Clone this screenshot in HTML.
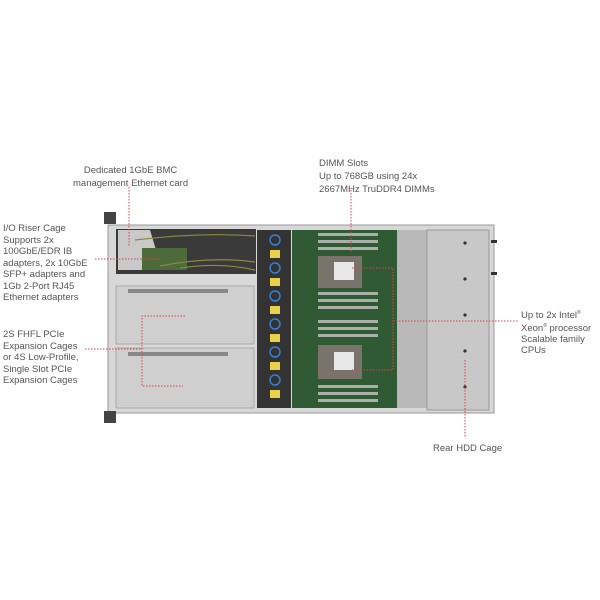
<!DOCTYPE html>
<html><head><style>
body{margin:0;width:600px;height:600px;background:#fff;position:relative;overflow:hidden;font-family:"Liberation Sans",sans-serif}
.t{position:absolute;font-size:9.5px;line-height:13px;color:#555;white-space:nowrap}
</style></head><body>
<svg width="600" height="600" style="position:absolute;left:0;top:0">
<rect x="108" y="225" width="386" height="188" fill="#d8d8d8" stroke="#999"/>
<rect x="104" y="212" width="12" height="12" fill="#444"/>
<rect x="104" y="411" width="12" height="12" fill="#444"/>
<rect x="116" y="229" width="140" height="45" fill="#3a3a3a"/>
<polygon points="118,230 150,230 162,270 118,270" fill="#c9c9c9"/>
<rect x="142" y="248" width="45" height="22" fill="#4c6a3a"/>
<g fill="none" stroke="#8a8a3a" stroke-width="1.2">
<path d="M135,240 Q200,232 255,236"/><path d="M160,266 Q210,256 255,262"/><path d="M180,268 Q220,262 255,270"/>
<path d="M378,232 Q400,236 398,300 Q396,380 380,408"/><path d="M384,232 Q406,240 404,300 Q402,385 388,408"/>
<path d="M296,240 Q306,260 296,280 Q306,300 296,320 Q306,340 296,360 Q306,380 296,400"/>
</g>
<rect x="116" y="286" width="138" height="58" fill="#cfcfcf" stroke="#aaa"/>
<rect x="116" y="348" width="138" height="60" fill="#cfcfcf" stroke="#aaa"/>
<rect x="128" y="289" width="100" height="4" fill="#888"/>
<rect x="128" y="352" width="100" height="4" fill="#888"/>
<rect x="257" y="230" width="34" height="178" fill="#333"/>
<g fill="#e8d24a">
<rect x="270" y="250" width="10" height="8"/><rect x="270" y="278" width="10" height="8"/><rect x="270" y="306" width="10" height="8"/><rect x="270" y="334" width="10" height="8"/><rect x="270" y="362" width="10" height="8"/><rect x="270" y="390" width="10" height="8"/></g>
<g fill="none" stroke="#3a7fd0" stroke-width="1.5">
<circle cx="275" cy="240" r="5"/><circle cx="275" cy="268" r="5"/><circle cx="275" cy="296" r="5"/><circle cx="275" cy="324" r="5"/><circle cx="275" cy="352" r="5"/><circle cx="275" cy="380" r="5"/></g>
<rect x="292" y="230" width="105" height="178" fill="#2f5a34"/>
<g fill="#aab0a8">
<rect x="318" y="233" width="60" height="3"/><rect x="318" y="240" width="60" height="3"/><rect x="318" y="247" width="60" height="3"/>
<rect x="318" y="292" width="60" height="3"/><rect x="318" y="299" width="60" height="3"/><rect x="318" y="306" width="60" height="3"/><rect x="318" y="320" width="60" height="3"/><rect x="318" y="327" width="60" height="3"/><rect x="318" y="334" width="60" height="3"/>
<rect x="318" y="385" width="60" height="3"/><rect x="318" y="392" width="60" height="3"/><rect x="318" y="399" width="60" height="3"/></g>
<rect x="318" y="256" width="44" height="32" fill="#7a736c"/><rect x="334" y="262" width="20" height="18" fill="#e8e8e8"/>
<rect x="318" y="345" width="44" height="34" fill="#7a736c"/><rect x="334" y="352" width="20" height="18" fill="#e8e8e8"/>
<rect x="397" y="230" width="30" height="178" fill="#b9b9b9"/>
<rect x="427" y="230" width="62" height="180" fill="#c8c8c8" stroke="#999"/>
<g fill="#333"><circle cx="465" cy="243" r="1.6"/><circle cx="465" cy="279" r="1.6"/><circle cx="465" cy="315" r="1.6"/><circle cx="465" cy="351" r="1.6"/><circle cx="465" cy="387" r="1.6"/></g>
<rect x="491" y="240" width="6" height="3" fill="#333"/><rect x="491" y="272" width="6" height="3" fill="#333"/>
<g stroke="#e0404a" stroke-width="1" stroke-dasharray="1.5,1.5" fill="none">
<line x1="129" y1="187" x2="129" y2="246"/>
<line x1="351" y1="190" x2="351" y2="252"/>
<line x1="95" y1="259" x2="160" y2="259"/>
<line x1="85" y1="349" x2="142" y2="349"/>
<polyline points="185,316 142,316 142,386 183,386"/>
<polyline points="352,268 393,268 393,370 352,370"/>
<line x1="393" y1="321" x2="518" y2="321"/>
<line x1="465" y1="360" x2="465" y2="438"/>
</g>
</svg>
<div class="t" style="left:73px;top:164px;text-align:center">Dedicated 1GbE BMC<br>management Ethernet card</div>
<div class="t" style="left:319px;top:157px">DIMM Slots<br>Up to 768GB using 24x<br>2667MHz TruDDR4 DIMMs</div>
<div class="t" style="left:3px;top:223px;line-height:11.5px">I/O Riser Cage<br>Supports 2x<br>100GbE/EDR IB<br>adapters, 2x 10GbE<br>SFP+ adapters and<br>1Gb 2-Port RJ45<br>Ethernet adapters</div>
<div class="t" style="left:3px;top:329px;line-height:11.5px">2S FHFL PCIe<br>Expansion Cages<br>or 4S Low-Profile,<br>Single Slot PCIe<br>Expansion Cages</div>
<div class="t" style="left:521px;top:308px;line-height:11px">Up to 2x Intel<sup style="font-size:5px">®</sup><br>Xeon<sup style="font-size:5px">®</sup> processor<br>Scalable family<br>CPUs</div>
<div class="t" style="left:433px;top:442px">Rear HDD Cage</div>
</body></html>
